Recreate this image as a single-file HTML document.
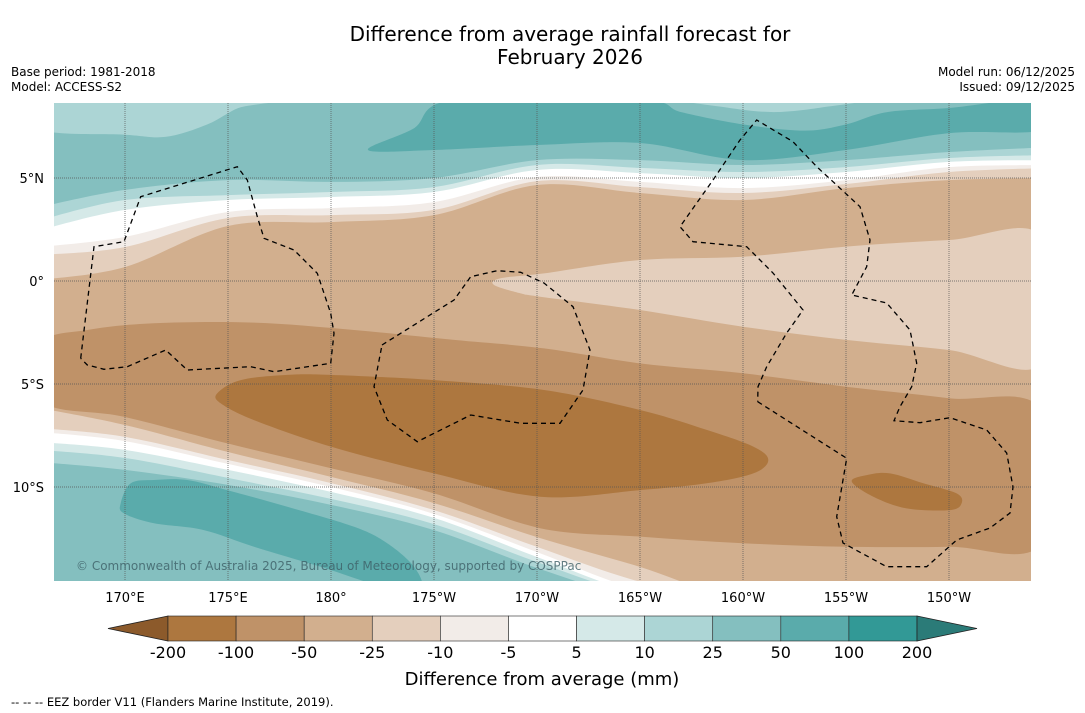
<!DOCTYPE html>
<html><head><meta charset="utf-8"><title>Difference from average rainfall forecast</title>
<style>
html,body{margin:0;padding:0;background:#fff;}
svg{display:block;font-family:"DejaVu Sans","Liberation Sans",sans-serif;}
</style></head>
<body>
<svg id="chart" width="1085" height="713" viewBox="0 0 1085 713" xmlns="http://www.w3.org/2000/svg">
  <defs><clipPath id="mapclip"><rect x="54" y="103" width="977" height="478"/></clipPath></defs>
  <text x="570" y="41" font-size="20" text-anchor="middle" fill="#000">Difference from average rainfall forecast for</text>
  <text x="570" y="64" font-size="20" text-anchor="middle" fill="#000">February 2026</text>
  <text x="11" y="76" font-size="12" fill="#000">Base period: 1981-2018</text>
  <text x="11" y="91" font-size="12" fill="#000">Model: ACCESS-S2</text>
  <text x="1075" y="76" font-size="12" text-anchor="end" fill="#000">Model run: 06/12/2025</text>
  <text x="1075" y="91" font-size="12" text-anchor="end" fill="#000">Issued: 09/12/2025</text>
  <g id="map" clip-path="url(#mapclip)"></g>
  <g id="axes"></g>
  <g id="colorbar"></g>
  <text x="542" y="685" font-size="18" text-anchor="middle" fill="#000">Difference from average (mm)</text>
  <text x="11" y="706" font-size="11.5" fill="#000">--  --  -- EEZ border V11 (Flanders Marine Institute, 2019).</text>
</svg>
<script>
// ---- data ----
const lons = [166.55,170,175,180,185,190,195,200,205,210,214];
const north25 = [0.05,0.68,2.67,2.86,3.20,4.66,4.27,3.93,4.51,4.90,5.00];
const north10 = [1.26,1.65,3.06,3.20,3.45,4.85,4.56,4.27,4.71,5.29,5.49];
const north5  = [1.65,2.14,3.35,3.54,3.83,5.05,4.81,4.51,4.90,5.53,5.63];
const northP5 = [2.48,3.45,3.93,4.08,4.32,5.39,5.24,5.00,5.29,5.78,5.87];
const northP10= [2.96,3.93,4.17,4.32,4.56,5.63,5.49,5.29,5.53,5.97,6.12];
const northP25= [3.59,4.42,4.90,4.81,5.00,5.87,5.87,5.63,5.87,6.26,6.50];
const south25 = [-6.17,-6.99,-8.30,-9.51,-10.78,-12.43,-13.88,-15.5,-15.5,-15.5,-15.5];
const south10 = [-7.14,-7.57,-8.69,-9.81,-11.12,-12.91,-14.6,-15.6,-15.6,-15.6,-15.6];
const south5  = [-7.33,-7.77,-8.88,-10.0,-11.31,-13.16,-15.0,-15.8,-15.8,-15.8,-15.8];
const southP5 = [-7.82,-8.20,-9.17,-10.24,-11.50,-13.40,-15.2,-16,-16,-16,-16];
const southP10= [-8.20,-8.59,-9.56,-10.58,-11.80,-13.64,-15.3,-16.2,-16.2,-16.2,-16.2];
const southP25= [-8.79,-9.17,-9.90,-10.87,-12.09,-13.93,-15.5,-16.4,-16.4,-16.4,-16.4];
const northWet100 = [[181.8,6.36],[184,7.4],[186,8.8],[195,8.8],[197,8.2],[200,7.6],[203,7.3],[205,7.6],[207,8.2],[210,8.4],[214.5,8.8],[214.5,7.33],[210,7.18],[205,6.36],[200,5.87],[195,6.70],[190,6.60],[185,6.36]];
const northWet10a = [[166,8.8],[166,7.33],[170,7.1],[172,7.0],[174,7.6],[175.5,8.4],[177,8.8]];
const northWet10b = [[197.5,8.8],[199,8.45],[201.5,8.2],[204,8.45],[205.5,8.8]];
const southWet100 = [[169.79,-10.79],[170.28,-9.82],[171.41,-9.66],[173.02,-9.66],[174.96,-10.15],[177.88,-10.96],[181.12,-11.93],[182.73,-12.73],[184.03,-13.87],[184.35,-14.9],[182.73,-14.9],[179.50,-13.87],[176.26,-12.90],[173.83,-12.09],[171.41,-11.76],[169.95,-11.28]];
const dry50Band = [[166,-3.02],[168.17,-2.38],[171.41,-2.05],[176.26,-2.02],[181.12,-2.38],[185.97,-2.86],[190.34,-3.27],[195,-4.00],[200,-4.48],[205,-5.13],[210,-5.69],[214.5,-6.26],[214.5,-12.73],[210,-12.90],[205,-12.90],[200,-12.73],[195,-12.41],[190.15,-12.0],[185,-10.31],[180,-9.09],[174.95,-7.88],[169.95,-6.59],[166,-5.86]];
const dry100BlobA = [[174.48,-5.45],[175.62,-4.81],[177.88,-4.56],[179.99,-4.56],[185,-4.81],[190.34,-5.29],[195,-6.26],[198.24,-7.23],[200.5,-8.04],[201.23,-8.69],[200.5,-9.34],[198.24,-9.82],[195,-10.15],[190.15,-10.47],[185,-9.34],[180,-8.04],[176.26,-6.75],[174.65,-5.94]];
const dry100BlobB = [[205.28,-9.74],[206,-9.42],[207.14,-9.34],[208.75,-9.82],[210.37,-10.31],[210.61,-10.79],[210.05,-11.12],[207.94,-11.04],[206.33,-10.47]];
const dry10East = [[187.91,-0.19],[188.24,0.13],[190.34,0.37],[195,1.02],[200,1.18],[205,1.67],[210,1.99],[214.5,2.15],[214.5,-4.0],[210,-3.35],[205,-2.86],[200,-2.22],[195,-1.41],[190.15,-0.76],[189.21,-0.6]];
const levelLabels = ["-200","-100","-50","-25","-10","-5","5","10","25","50","100","200"];
const levelColors = ["#ad773f","#bf9268","#d2af8e","#e4cfbd","#f2ece8","#ffffff","#d5e9e8","#acd5d5","#84bfbf","#5aabab","#329996"];
const lonTicks = [170,175,180,185,190,195,200,205,210];
const lonTickLabels = ["170°E","175°E","180°","175°W","170°W","165°W","160°W","155°W","150°W"];
const latTicks = [5,0,-5,-10];
const latTickLabels = ["5°N","0°","5°S","10°S"];

// ---- axis functions ----
const X = lon => 125 + (lon-170)*20.6;
const Y = lat => 281 - lat*20.6;
const NS = "http://www.w3.org/2000/svg";
function mk(tag, attrs, parent){const e=document.createElementNS(NS,tag);for(const k in attrs)e.setAttribute(k,attrs[k]);parent.appendChild(e);return e;}
function smooth(pts, closed){
  const n=pts.length; let d="M"+pts[0][0].toFixed(1)+","+pts[0][1].toFixed(1);
  const get=i=>closed?pts[(i+n)%n]:pts[Math.max(0,Math.min(n-1,i))];
  const segs=closed?n:n-1;
  for(let i=0;i<segs;i++){
    const p0=get(i-1),p1=get(i),p2=get(i+1),p3=get(i+2);
    const c1=[p1[0]+(p2[0]-p0[0])/6,p1[1]+(p2[1]-p0[1])/6];
    const c2=[p2[0]-(p3[0]-p1[0])/6,p2[1]-(p3[1]-p1[1])/6];
    d+="C"+c1[0].toFixed(1)+","+c1[1].toFixed(1)+" "+c2[0].toFixed(1)+","+c2[1].toFixed(1)+" "+p2[0].toFixed(1)+","+p2[1].toFixed(1);
  }
  return d+(closed?"Z":"");
}
const map=document.getElementById('map');
const bg=mk('rect',{x:40,y:90,width:1010,height:510,fill:levelColors[2]},map);


function band(arr, top, color, name){
  const pts=lons.map((l,i)=>[X(l),Y(arr[i])]);
  pts[0][0]=40; pts[pts.length-1][0]=1050;
  let d=smooth(pts,false);
  const edge=top?85:600;
  d+="L1050,"+edge+"L40,"+edge+"Z";
  const p=mk('path',{d:d,fill:color},map);
  
  
}
function blob(arr,color,name){
  const pts=arr.map(a=>[X(a[0]),Y(a[1])]);
  const p=mk('path',{d:smooth(pts,true),fill:color},map);
  
  
}
band(north25,true,levelColors[3],'north-band-dry-10-25');
band(north10,true,levelColors[4],'north-band-dry-5-10');
band(north5,true,levelColors[5],'north-band-neutral');
band(northP5,true,levelColors[6],'north-band-wet-5-10');
band(northP10,true,levelColors[7],'north-band-wet-10-25');
band(northP25,true,levelColors[8],'north-band-wet-25-50');
blob(northWet100,levelColors[9],'north-region-wet-50-100');
blob(northWet10a,levelColors[7],'northwest-patch-wet-10-25');
blob(northWet10b,levelColors[7],'north-patch-wet-10-25');
blob(dry10East,levelColors[3],'east-region-dry-10-25');
band(south25,false,levelColors[3],'south-band-dry-10-25');
band(south10,false,levelColors[4],'south-band-dry-5-10');
band(south5,false,levelColors[5],'south-band-neutral');
band(southP5,false,levelColors[6],'south-band-wet-5-10');
band(southP10,false,levelColors[7],'south-band-wet-10-25');
band(southP25,false,levelColors[8],'south-band-wet-25-50');
blob(southWet100,levelColors[9],'south-region-wet-50-100');
blob(dry50Band,levelColors[1],'band-dry-50-100');
blob(dry100BlobA,levelColors[0],'region-dry-100-200');
blob(dry100BlobB,levelColors[0],'east-region-dry-100-200');

// gridlines
lonTicks.forEach(l=>{const g=mk('line',{x1:X(l),x2:X(l),y1:103,y2:581,stroke:'#555','stroke-width':0.7,'stroke-dasharray':'1,1'},map);

});
latTicks.forEach(l=>{const g=mk('line',{x1:54,x2:1031,y1:Y(l),y2:Y(l),stroke:'#555','stroke-width':0.7,'stroke-dasharray':'1,1'},map);

});

// EEZ borders (overlay geometry)
const eez=[
 [[80.7,358.3],[94,246.7],[124,241.7],[140.7,196.7],[237.3,166.7],[247.3,180],[257.3,216.7],[264,238.3],[294,250],[317.3,273.3],[330.7,313.3],[334,333.3],[330.7,363.3],[274,371.7],[250.7,366.7],[187.3,370],[165.7,350],[127.3,366.7],[104,369.3],[87.3,365],[80.7,358.3]],
 [[382,345],[454,300],[470.7,276.7],[497,270.7],[520.7,272.3],[544,283],[573,306.7],[590,350],[583,390],[560,423.3],[520.7,423.3],[470.7,415],[417.3,441.7],[387.3,420],[374,386.7],[382,345]],
 [[757.7,401.7],[846.7,458.3],[836.7,516.7],[843,543],[886.7,566.7],[926.7,566.7],[956.7,540],[990,528],[1010,513],[1013,487],[1006.7,453],[986.7,430],[950,417.7],[920,422.7],[894,420.7],[900,406.7],[911.7,386.7],[916.7,363.3],[910,330],[886.7,303],[851.7,295],[866.7,266.7],[870,240],[860,206.7],[833,181.7],[816.7,166.7],[793,141.7],[756.7,120],[740,140],[713,180],[680,226.7],[693,241.7],[746.7,246.7],[773,273],[803,310],[786.7,333],[766.7,366.7],[758,386.7],[757.7,401.7]]
];
eez.forEach(pts=>{const p=mk('polyline',{points:pts.map(p=>p.join(',')).join(' '),fill:'none',stroke:'#000','stroke-width':1.3,'stroke-dasharray':'5,4'},map);

});

const cr=mk('text',{x:76,y:570,'font-size':12,fill:'#3d5f66','fill-opacity':0.8},map);
cr.textContent="© Commonwealth of Australia 2025, Bureau of Meteorology, supported by COSPPac";



// axis labels
const axes=document.getElementById('axes');
lonTicks.forEach((l,i)=>{const t=mk('text',{x:X(l),y:602,'font-size':13,'text-anchor':'middle',fill:'#000'},axes);t.textContent=lonTickLabels[i];

});
latTicks.forEach((l,i)=>{const t=mk('text',{x:44,y:Y(l)+5,'font-size':13,'text-anchor':'end',fill:'#000'},axes);t.textContent=latTickLabels[i];

});

// colorbar
const cb=document.getElementById('colorbar');
const cbX0=168, cbW=(917-168)/levelColors.length, cbY=616, cbH=25;
const lt=mk('polygon',{points:`${cbX0},${cbY} 108,${cbY+cbH/2} ${cbX0},${cbY+cbH}`,fill:'#8c5a2b',stroke:'#222','stroke-width':0.8},cb);


levelColors.forEach((c,i)=>{const r=mk('rect',{x:cbX0+i*cbW,y:cbY,width:cbW,height:cbH,fill:c,stroke:'#222','stroke-width':0.6},cb);

});
const xe=cbX0+levelColors.length*cbW;
const rt=mk('polygon',{points:`${xe},${cbY} 977,${cbY+cbH/2} ${xe},${cbY+cbH}`,fill:'#2b7b78',stroke:'#222','stroke-width':0.8},cb);


levelLabels.forEach((s,i)=>{const t=mk('text',{x:cbX0+i*cbW,y:658,'font-size':16,'text-anchor':'middle',fill:'#000'},cb);t.textContent=s;

});
</script>
</body></html>
